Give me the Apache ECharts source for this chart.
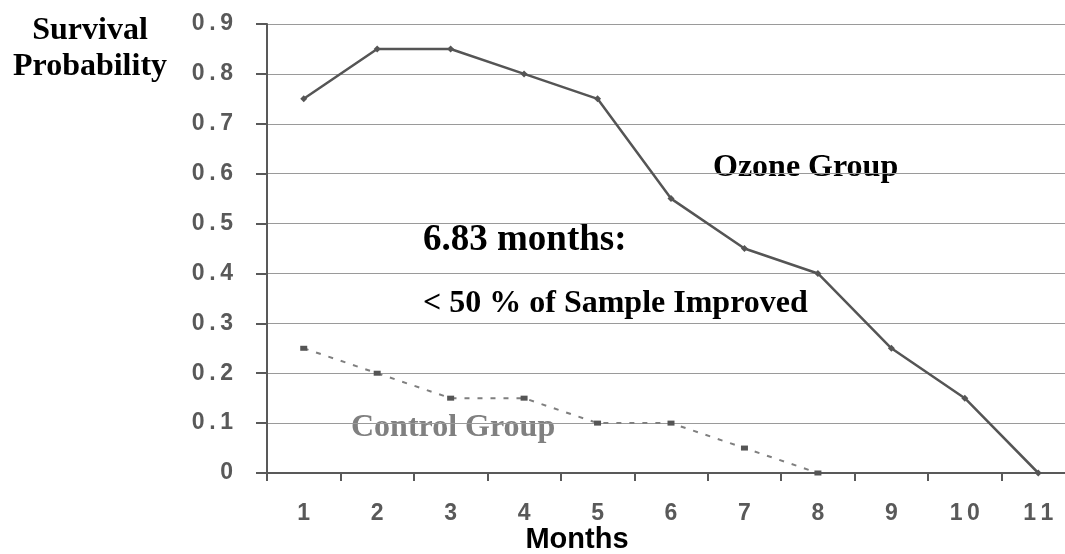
<!DOCTYPE html>
<html>
<head>
<meta charset="utf-8">
<script src="https://cdn.jsdelivr.net/npm/echarts@6/dist/echarts.min.js"></script>
<style>
html,body{margin:0;padding:0;background:#fff;overflow:hidden;width:1065px;height:554px;}
#chart{width:1080px;height:554px;}
</style>
</head>
<body>
<div id="chart"></div>
<script>
const months = ['1','2','3','4','5','6','7','8','9','10','11'];
const ozoneGroup = [0.75, 0.85, 0.85, 0.80, 0.75, 0.55, 0.45, 0.40, 0.25, 0.15, 0];
const controlGroup = [0.25, 0.20, 0.15, 0.15, 0.10, 0.10, 0.05, 0];
const yTicks = [0, 0.1, 0.2, 0.3, 0.4, 0.5, 0.6, 0.7, 0.8, 0.9];

const spaced = s => String(s).split('').join('\u2009');

const chart = echarts.init(document.getElementById('chart'), null, {renderer: 'canvas'});
chart.setOption({
  animation: false,
  backgroundColor: '#ffffff',
  grid: {left: 267, top: 24, bottom: 81, right: 5, containLabel: false},
  xAxis: {
    type: 'category',
    data: months,
    boundaryGap: true,
    axisLine: {show: true, lineStyle: {color: '#595959', width: 2}},
    axisTick: {show: true, length: 8, lineStyle: {color: '#595959', width: 2}},
    axisLabel: {
      margin: 29, color: '#595959', fontSize: 23, fontWeight: 'bold',
      fontFamily: 'Liberation Sans, Arial, sans-serif',
      formatter: v => spaced(v)
    },
    splitLine: {show: false}
  },
  yAxis: {
    type: 'value',
    min: 0, max: 0.9, interval: 0.1,
    axisLine: {show: true, lineStyle: {color: '#595959', width: 2}},
    axisTick: {show: true, length: 11, lineStyle: {color: '#595959', width: 2}},
    axisLabel: {
      margin: 34, color: '#595959', fontSize: 23, fontWeight: 'bold',
      fontFamily: 'Liberation Sans, Arial, sans-serif',
      formatter: v => {
        const t = yTicks.find(x => Math.abs(x - v) < 1e-9);
        const s = (t === 0) ? '0' : (t !== undefined ? t.toFixed(1) : v.toFixed(1));
        return spaced(s);
      }
    },
    splitLine: {show: true, lineStyle: {color: '#9a9a9a', width: 1}}
  },
  series: [
    {
      name: 'Ozone Group',
      type: 'line',
      data: ozoneGroup,
      symbol: 'diamond',
      symbolSize: 7,
      lineStyle: {color: '#555555', width: 2.5},
      itemStyle: {color: '#555555'},
      z: 3
    },
    {
      name: 'Control Group',
      type: 'line',
      data: controlGroup,
      symbol: 'rect',
      symbolSize: [7, 5],
      lineStyle: {color: '#7f7f7f', width: 2, type: [5, 8]},
      itemStyle: {color: '#555555'},
      z: 2
    }
  ],
  graphic: [
    {type: 'text', style: {text: 'Survival', x: 90, y: 31, align: 'center', verticalAlign: 'middle', fill: '#000', font: 'bold 32px "Liberation Serif", "Times New Roman", serif'}},
    {type: 'text', style: {text: 'Probability', x: 90, y: 67, align: 'center', verticalAlign: 'middle', fill: '#000', font: 'bold 32px "Liberation Serif", "Times New Roman", serif'}},
    {type: 'text', style: {text: 'Months', x: 577, y: 540, align: 'center', verticalAlign: 'middle', fill: '#000', font: 'bold 29px "Liberation Sans", Arial, sans-serif'}},
    {type: 'text', style: {text: 'Ozone Group', x: 713, y: 168, align: 'left', verticalAlign: 'middle', fill: '#000', font: 'bold 32px "Liberation Serif", "Times New Roman", serif'}},
    {type: 'text', style: {text: '6.83 months:', x: 423, y: 240, align: 'left', verticalAlign: 'middle', fill: '#000', font: 'bold 37px "Liberation Serif", "Times New Roman", serif'}},
    {type: 'text', style: {text: '< 50 % of Sample Improved', x: 423, y: 304, align: 'left', verticalAlign: 'middle', fill: '#000', font: 'bold 32px "Liberation Serif", "Times New Roman", serif'}},
    {type: 'text', style: {text: 'Control Group', x: 351, y: 428, align: 'left', verticalAlign: 'middle', fill: '#808080', font: 'bold 32px "Liberation Serif", "Times New Roman", serif'}}
  ]
});
</script>
</body>
</html>
